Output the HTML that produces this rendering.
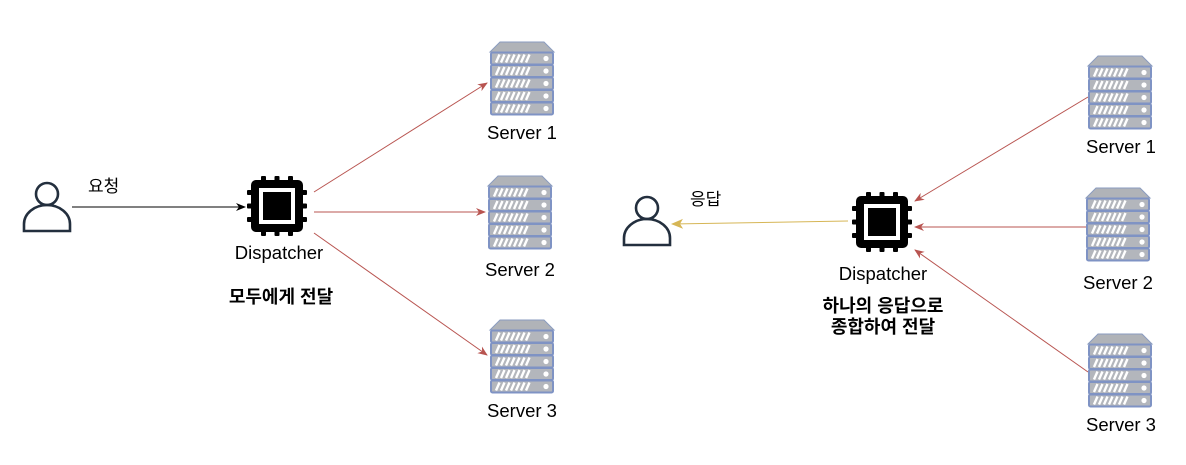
<!DOCTYPE html>
<html><head><meta charset="utf-8"><style>
body{margin:0;background:#fff;width:1186px;height:460px;overflow:hidden}
text{font-family:"Liberation Sans","Noto Sans CJK KR",sans-serif;font-size:18.5px;fill:#000}
.k{font-size:17px}
.b{font-size:18px;font-weight:bold}
</style></head><body>
<svg width="1186" height="460" viewBox="0 0 1186 460" xmlns="http://www.w3.org/2000/svg">
<defs>
<g id="srv">
 <path d="M10 0 H54 L64 10 H0 Z" fill="#b0b3b8" stroke="#8a9bbf" stroke-width="1"/>
 <g id="rk"><rect x="1" y="10.5" width="62" height="12" rx="1.5" fill="#b3b6bc" stroke="#7f93c4" stroke-width="2"/>
 <path d="M6 20.5 l3.5 -8 M11 20.5 l3.5 -8 M16 20.5 l3.5 -8 M21 20.5 l3.5 -8 M26 20.5 l3.5 -8 M31 20.5 l3.5 -8 M36 20.5 l3.5 -8" stroke="#fff" stroke-width="2.4"/>
 <circle cx="56" cy="16.5" r="2.6" fill="#fff"/></g>
 <use href="#rk" y="12.5"/><use href="#rk" y="25"/><use href="#rk" y="37.5"/><use href="#rk" y="50"/>
</g>
<g id="chip">
 <rect x="4" y="4" width="52" height="52" rx="5" fill="#000"/>
 <rect x="12" y="12" width="36" height="36" fill="#fff"/>
 <rect x="16" y="16" width="28" height="28" fill="#000"/>
 <g fill="#000">
 <rect x="14" y="0" width="5" height="6" rx="1"/><rect x="27.5" y="0" width="5" height="6" rx="1"/><rect x="41" y="0" width="5" height="6" rx="1"/>
 <rect x="14" y="54" width="5" height="6" rx="1"/><rect x="27.5" y="54" width="5" height="6" rx="1"/><rect x="41" y="54" width="5" height="6" rx="1"/>
 <rect x="0" y="14" width="6" height="5" rx="1"/><rect x="0" y="27.5" width="6" height="5" rx="1"/><rect x="0" y="41" width="6" height="5" rx="1"/>
 <rect x="54" y="14" width="6" height="5" rx="1"/><rect x="54" y="27.5" width="6" height="5" rx="1"/><rect x="54" y="41" width="6" height="5" rx="1"/>
 </g>
</g>
<g id="usr" fill="none" stroke="#232f3e" stroke-width="2.6">
 <circle cx="25" cy="12" r="11"/>
 <path d="M2 49 V42 A23 19 0 0 1 48 42 V49 Z"/>
</g>
<marker id="ab" markerWidth="10" markerHeight="10" refX="9" refY="5" orient="auto" markerUnits="userSpaceOnUse"><path d="M0 1 L10 5 L0 9 L3 5Z" fill="#000"/></marker>
<marker id="ar" markerWidth="10" markerHeight="10" refX="9" refY="5" orient="auto" markerUnits="userSpaceOnUse"><path d="M0 1 L10 5 L0 9 L3 5Z" fill="#b85450"/></marker>
<marker id="ay" markerWidth="12" markerHeight="12" refX="11" refY="6" orient="auto" markerUnits="userSpaceOnUse"><path d="M0 1 L12 6 L0 11 L3 6Z" fill="#d6b656"/></marker>
</defs>

<!-- left -->
<use href="#usr" x="22" y="182"/>
<line x1="72" y1="207" x2="245" y2="207" stroke="#000" stroke-width="1" marker-end="url(#ab)"/>
<text x="88" y="192" class="k">요청</text>
<use href="#chip" x="247" y="176"/>
<text x="279" y="259" text-anchor="middle">Dispatcher</text>
<text x="281" y="303" text-anchor="middle" class="b">모두에게 전달</text>
<g stroke="#b85450" stroke-width="1">
<line x1="314" y1="192" x2="487" y2="83" marker-end="url(#ar)"/>
<line x1="314" y1="212" x2="485" y2="212" marker-end="url(#ar)"/>
<line x1="314" y1="233" x2="487" y2="355" marker-end="url(#ar)"/>
</g>
<use href="#srv" x="490" y="42"/><text x="522" y="139" text-anchor="middle">Server 1</text>
<use href="#srv" x="488" y="176"/><text x="520" y="276" text-anchor="middle">Server 2</text>
<use href="#srv" x="490" y="320"/><text x="522" y="417" text-anchor="middle">Server 3</text>

<!-- right -->
<use href="#usr" x="622" y="196"/>
<line x1="848" y1="221" x2="672" y2="224" stroke="#d6b656" stroke-width="1" marker-end="url(#ay)"/>
<text x="690" y="205" class="k">응답</text>
<use href="#chip" x="852" y="192"/>
<text x="883" y="280" text-anchor="middle">Dispatcher</text>
<text x="883" y="312" text-anchor="middle" class="b">하나의 응답으로</text>
<text x="883" y="333" text-anchor="middle" class="b">종합하여 전달</text>
<g stroke="#b85450" stroke-width="1">
<line x1="1088" y1="97" x2="915" y2="201" marker-end="url(#ar)"/>
<line x1="1086" y1="227" x2="915" y2="227" marker-end="url(#ar)"/>
<line x1="1088" y1="372" x2="915" y2="250" marker-end="url(#ar)"/>
</g>
<use href="#srv" x="1088" y="56"/><text x="1121" y="153" text-anchor="middle">Server 1</text>
<use href="#srv" x="1086" y="188"/><text x="1118" y="289" text-anchor="middle">Server 2</text>
<use href="#srv" x="1088" y="334"/><text x="1121" y="431" text-anchor="middle">Server 3</text>
</svg>
</body></html>
